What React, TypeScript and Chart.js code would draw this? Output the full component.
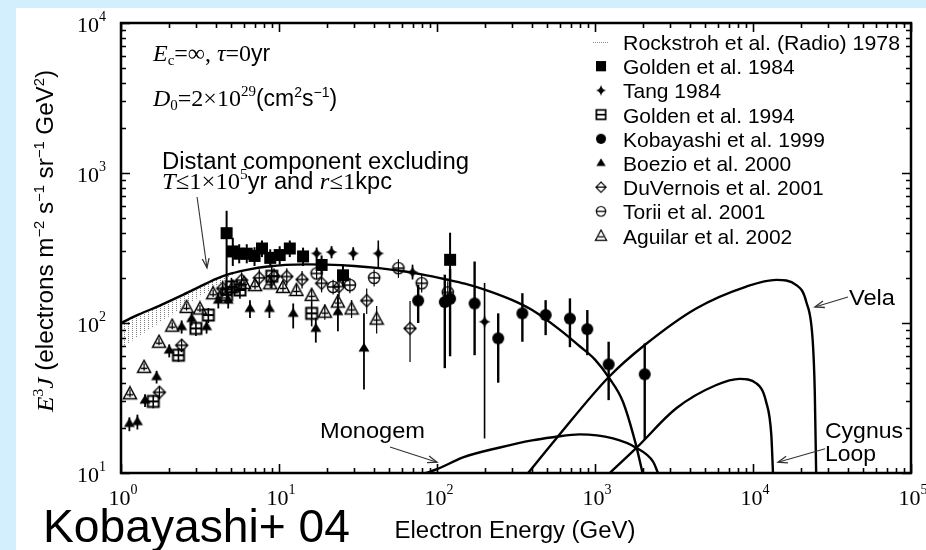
import { useEffect, useRef } from "react";
import { Chart, registerables } from "chart.js";

Chart.register(...registerables);

const SERIF = '"Liberation Serif", "DejaVu Serif", serif';
const SANS = '"Liberation Sans", Arial, Helvetica, sans-serif';

// ---- axes ----
const xTickExponents = [0, 1, 2, 3, 4, 5];
const yTickExponents = [1, 2, 3, 4];

// ---- model curves (energy in GeV, E^3 J) ----
const distantEnergy = [1, 1.3, 1.8, 2.5, 3.2, 4, 5, 6.5, 8.5, 11, 15, 20, 30, 43, 60, 80, 115, 150, 200, 300, 400, 600, 800, 1000, 1230, 1500, 1800, 2000];
const distantFlux = [100, 114, 132, 155, 176, 197, 214, 228, 238, 244, 246, 245, 240, 232, 222, 211, 195, 183, 167, 142, 122, 90, 70, 57, 43, 30, 16, 10];

const velaEnergy = [377, 569, 1227, 2064, 4370, 9080, 14050, 18800, 21700, 23900, 24600, 25100];
const velaFlux = [10, 17, 43.8, 71.3, 125, 175, 194, 179, 139, 75, 35, 10];

const cygnusEnergy = [1240, 1828, 3270, 5860, 8240, 10500, 12100, 13060, 13380];
const cygnusFlux = [10, 14.7, 27, 38.6, 42.4, 39.6, 29.9, 17.9, 10];

const monogemEnergy = [85, 100, 146, 250, 400, 542, 800, 1300, 1828, 2330, 2505];
const monogemFlux = [10, 10.6, 12.7, 14.8, 16.5, 17.3, 18.1, 17.0, 14.7, 11.9, 10];

// ---- radio band (Rockstroh et al. 1978) ----
const radioEnergy = [1.0, 1.5, 2.0, 3.0, 4.0, 5.5];
const radioLow = [68, 90, 110, 145, 175, 222];
const radioHigh = [100, 122, 140, 174, 200, 222];

// ---- measurements ----
const golden84Energy = [4.66, 5.1, 5.6, 6.25, 7.0, 7.8, 8.8, 10.1, 11.7, 14.2, 18.6, 25.4, 121];
const golden84Flux = [397, 300, 290, 290, 280, 314, 272, 284, 314, 278, 244, 208, 264];
const golden84Low = [160, 240, 250, 250, 240, 275, 235, 245, 275, 240, 210, 175, 150];
const golden84High = [560, 370, 335, 335, 320, 355, 310, 325, 355, 318, 282, 245, 400];

const tangEnergy = [17.3, 21.5, 29.5, 42.5, 70, 200];
const tangFlux = [291, 297, 291, 291, 218, 102];
const tangLow = [265, 270, 262, 230, 195, 17];
const tangHigh = [318, 325, 320, 355, 245, 185];

const golden94Energy = [1.6, 2.31, 2.98, 3.57, 4.66, 5.0, 5.66, 9.0, 16.1];
const golden94Flux = [30, 61, 92, 113, 154, 174, 166, 205, 116];
const golden94Low = [27, 55, 82, 100, 135, 150, 145, 170, 95];
const golden94High = [33, 68, 102, 126, 175, 200, 190, 245, 140];

const kobayashiEnergy = [76, 112, 121, 173, 244, 347, 487, 694, 894, 1220, 2064];
const kobayashiFlux = [141, 138, 145, 135, 79, 116, 113, 107, 91, 53, 45.5];
const kobayashiLow = [100, 50, 60, 61, 40, 75, 83, 69, 61, 30.6, 16.6];
const kobayashiHigh = [180, 210, 230, 257, 116, 158, 142, 146, 122, 75, 73];

const boezioEnergy = [1.13, 1.27, 1.42, 1.68, 2.02, 2.42, 2.8, 3.48, 4.13, 4.77, 6.55, 8.7, 12.3, 17.1, 23.6, 34.5];
const boezioFlux = [21.4, 22, 30.6, 43.9, 66, 94.5, 107, 94.5, 142, 142, 125, 125, 116, 92, 119, 68];
const boezioLow = [19, 19.5, 27.5, 39.5, 59, 85, 96, 85, 125, 125, 108, 108, 92, 74, 88, 36];
const boezioHigh = [23.5, 24.5, 33.5, 48, 72, 104, 118, 104, 160, 160, 142, 142, 135, 108, 148, 116];

const duvernoisEnergy = [1.75, 2.42, 4.4, 5.8, 7.5, 9.3, 11.2, 14, 18.6, 24, 35.9, 67.5];
const duvernoisFlux = [34.5, 71, 170, 193, 200, 205, 204, 195, 184, 175, 141, 92];
const duvernoisLow = [31, 64, 150, 170, 175, 180, 178, 170, 160, 150, 115, 55];
const duvernoisHigh = [38, 78, 192, 218, 228, 232, 232, 222, 210, 202, 170, 140];

const toriiEnergy = [17.3, 22, 28.1, 40, 57, 80, 117];
const toriiFlux = [214, 174, 179, 200, 232, 184, 160];
const toriiLow = [195, 155, 158, 175, 200, 160, 135];
const toriiHigh = [236, 194, 200, 228, 266, 212, 190];

const aguilarEnergy = [1.14, 1.4, 1.74, 2.11, 2.6, 3.16, 3.83, 4.4, 5.1, 6.0, 7.05, 8.8, 10.6, 12.9, 16.1, 19.5, 23.6, 28.8, 41.5];
const aguilarFlux = [34, 51, 75, 96, 128, 125, 158, 160, 175, 185, 179, 184, 174, 166, 154, 119, 139, 125, 107];
const aguilarLow = [32, 48, 71, 91, 121, 118, 149, 150, 164, 173, 167, 171, 161, 152, 140, 105, 122, 108, 85];
const aguilarHigh = [36, 54, 79, 101, 135, 132, 167, 170, 186, 197, 191, 197, 187, 180, 168, 133, 156, 142, 130];

const legendLabels = [
  "Rockstroh et al. (Radio) 1978",
  "Golden et al. 1984",
  "Tang 1984",
  "Golden et al. 1994",
  "Kobayashi et al. 1999",
  "Boezio et al. 2000",
  "DuVernois et al. 2001",
  "Torii et al. 2001",
  "Aguilar et al. 2002",
];
const legendMarkers = ["radio", "filledSquare", "star", "squareBar", "filledCircle", "filledTriangle", "diamondBar", "circleBar", "triangleBar"];

// ---- helpers ----
const pts = (xs: number[], ys: number[]) => xs.map((x, i) => ({ x, y: ys[i] }));

function makeMarker(kind: string): HTMLCanvasElement {
  const c = document.createElement("canvas");
  c.width = 16;
  c.height = 16;
  const g = c.getContext("2d")!;
  g.fillStyle = "#000";
  g.strokeStyle = "#000";
  g.lineWidth = 1.5;
  g.beginPath();
  switch (kind) {
    case "filledSquare":
      g.fillRect(2, 2, 12, 12);
      break;
    case "star":
      g.moveTo(8, 1.5);
      g.quadraticCurveTo(9, 7, 14, 8);
      g.quadraticCurveTo(9, 9, 8, 14.5);
      g.quadraticCurveTo(7, 9, 2, 8);
      g.quadraticCurveTo(7, 7, 8, 1.5);
      g.fill();
      break;
    case "squareBar":
      g.lineWidth = 2;
      g.strokeRect(2.5, 2.5, 11, 11);
      g.moveTo(2.5, 8);
      g.lineTo(13.5, 8);
      g.stroke();
      break;
    case "filledCircle":
      g.arc(8, 8, 6, 0, Math.PI * 2);
      g.fill();
      break;
    case "filledTriangle":
      g.moveTo(8, 2.5);
      g.lineTo(13.5, 11.5);
      g.lineTo(2.5, 11.5);
      g.closePath();
      g.fill();
      break;
    case "diamondBar":
      g.lineWidth = 1.4;
      g.moveTo(8, 2);
      g.lineTo(14, 8);
      g.lineTo(8, 14);
      g.lineTo(2, 8);
      g.closePath();
      g.moveTo(2, 8);
      g.lineTo(14, 8);
      g.stroke();
      break;
    case "circleBar":
      g.lineWidth = 1.4;
      g.arc(8, 8, 5.6, 0, Math.PI * 2);
      g.moveTo(2.4, 8);
      g.lineTo(13.6, 8);
      g.stroke();
      break;
    case "triangleBar":
      g.lineWidth = 1.5;
      g.moveTo(8, 1.5);
      g.lineTo(14.5, 13.5);
      g.lineTo(1.5, 13.5);
      g.closePath();
      g.moveTo(4.8, 9.5);
      g.lineTo(11.2, 9.5);
      g.stroke();
      break;
  }
  return c;
}

type Seg = { t: string; font: string; dy?: number };

function segWidth(ctx: CanvasRenderingContext2D, segs: Seg[]) {
  let w = 0;
  for (const s of segs) {
    ctx.font = s.font;
    w += ctx.measureText(s.t).width;
  }
  return w;
}

// draws a run of mixed-font text starting at (x, y) baseline; optional stretch to a width
function drawSegs(ctx: CanvasRenderingContext2D, x: number, y: number, segs: Seg[], fitWidth?: number) {
  const w = segWidth(ctx, segs);
  const sx = fitWidth ? fitWidth / w : 1;
  ctx.save();
  ctx.translate(x, y);
  ctx.scale(sx, 1);
  ctx.textBaseline = "alphabetic";
  ctx.textAlign = "left";
  let cx = 0;
  for (const s of segs) {
    ctx.font = s.font;
    ctx.fillText(s.t, cx, s.dy || 0);
    cx += ctx.measureText(s.t).width;
  }
  ctx.restore();
  return w * sx;
}

const sans = (px: number) => `${px}px ${SANS}`;
const serif = (px: number) => `${px}px ${SERIF}`;
const iserif = (px: number) => `italic ${px}px ${SERIF}`;

function logTicks(loExp: number, hiExp: number) {
  const out: { value: number }[] = [];
  for (let e = loExp; e < hiExp; e++) for (let m = 1; m <= 9; m++) out.push({ value: m * Math.pow(10, e) });
  out.push({ value: Math.pow(10, hiExp) });
  return out;
}
const isDecade = (v: number) => Math.abs(Math.log10(v) - Math.round(Math.log10(v))) < 1e-9;

function arrow(ctx: CanvasRenderingContext2D, x1: number, y1: number, x2: number, y2: number) {
  ctx.save();
  ctx.strokeStyle = "#333";
  ctx.lineWidth = 1.1;
  ctx.beginPath();
  ctx.moveTo(x1, y1);
  ctx.lineTo(x2, y2);
  ctx.stroke();
  const a = Math.atan2(y2 - y1, x2 - x1);
  const L = 10;
  ctx.beginPath();
  ctx.moveTo(x2 - L * Math.cos(a - 0.35), y2 - L * Math.sin(a - 0.35));
  ctx.lineTo(x2, y2);
  ctx.lineTo(x2 - L * Math.cos(a + 0.35), y2 - L * Math.sin(a + 0.35));
  ctx.lineWidth = 1.3;
  ctx.stroke();
  ctx.restore();
}

export default function App() {
  const ref = useRef<HTMLCanvasElement>(null);

  useEffect(() => {
    const canvas = ref.current!;
    const markers: Record<string, HTMLCanvasElement> = {};
    for (const k of legendMarkers) if (k !== "radio") markers[k] = makeMarker(k);

    // vertical dotted hatching for the radio band
    const pc = document.createElement("canvas");
    pc.width = 4;
    pc.height = 2;
    const pg = pc.getContext("2d")!;
    pg.fillStyle = "rgba(95,95,95,0.8)";
    pg.fillRect(0, 0, 1, 1);
    const hatch = canvas.getContext("2d")!.createPattern(pc, "repeat")!;

    const curve = (data: { x: number; y: number }[], order: number) => ({
      type: "line" as const,
      data,
      borderColor: "#000",
      borderWidth: 2.4,
      pointRadius: 0,
      fill: false,
      cubicInterpolationMode: "monotone" as const,
      order,
    });

    const series = (data: { x: number; y: number }[], marker: string, lo: number[], hi: number[], errWidth: number, order: number) => ({
      type: "scatter" as const,
      data,
      pointStyle: markers[marker],
      pointRadius: 6,
      errLow: lo,
      errHigh: hi,
      errWidth,
      order,
    });

    const backgroundPlugin = {
      id: "panel",
      beforeDraw(chart: any) {
        const ctx = chart.ctx as CanvasRenderingContext2D;
        ctx.save();
        ctx.fillStyle = "#d3eefc";
        ctx.fillRect(0, 0, chart.width, chart.height);
        ctx.fillStyle = "#ffffff";
        ctx.fillRect(16, 8, chart.width - 16, chart.height - 8);
        ctx.restore();
      },
    };

    const errorBarPlugin = {
      id: "errorBars",
      beforeDatasetsDraw(chart: any) {
        const ctx = chart.ctx as CanvasRenderingContext2D;
        const xs = chart.scales.x;
        const ys = chart.scales.y;
        const a = chart.chartArea;
        ctx.save();
        ctx.beginPath();
        ctx.rect(a.left, a.top, a.right - a.left, a.bottom - a.top);
        ctx.clip();
        ctx.strokeStyle = "#000";
        chart.data.datasets.forEach((ds: any) => {
          if (!ds.errLow) return;
          ctx.lineWidth = ds.errWidth;
          ds.data.forEach((p: any, i: number) => {
            const px = xs.getPixelForValue(p.x);
            ctx.beginPath();
            ctx.moveTo(px, ys.getPixelForValue(ds.errLow[i]));
            ctx.lineTo(px, ys.getPixelForValue(ds.errHigh[i]));
            ctx.stroke();
          });
        });
        ctx.restore();
      },
    };

    const framePlugin = {
      id: "frame",
      afterDatasetsDraw(chart: any) {
        const ctx = chart.ctx as CanvasRenderingContext2D;
        const xs = chart.scales.x;
        const ys = chart.scales.y;
        const { left, right, top, bottom } = chart.chartArea;
        ctx.save();
        ctx.strokeStyle = "#000";
        ctx.lineWidth = 1.6;
        ctx.beginPath();
        for (const t of xs.ticks) {
          const px = Math.round(xs.getPixelForValue(t.value)) + 0.5;
          const len = isDecade(t.value) ? 9 : 5;
          ctx.moveTo(px, bottom);
          ctx.lineTo(px, bottom - len);
          ctx.moveTo(px, top);
          ctx.lineTo(px, top + len);
        }
        for (const t of ys.ticks) {
          const py = Math.round(ys.getPixelForValue(t.value)) + 0.5;
          const len = isDecade(t.value) ? 9 : 5;
          ctx.moveTo(left, py);
          ctx.lineTo(left + len, py);
          ctx.moveTo(right, py);
          ctx.lineTo(right - len, py);
        }
        ctx.stroke();
        ctx.lineWidth = 2.5;
        ctx.strokeRect(left, top, right - left, bottom - top);

        // annotation arrows, given in data coordinates
        const P = (e: number, j: number): [number, number] => [xs.getPixelForValue(e), ys.getPixelForValue(j)];
        const arrows: [number, number, number, number][] = [
          [3.03, 692, 3.5, 233],
          [50.4, 14.9, 100, 11.8],
          [39900, 149, 24650, 128],
          [28600, 14.5, 14400, 11.8],
        ];
        for (const [e1, j1, e2, j2] of arrows) {
          const [x1, y1] = P(e1, j1);
          const [x2, y2] = P(e2, j2);
          arrow(ctx, x1, y1, x2, y2);
        }
        ctx.restore();
      },
    };

    const textPlugin = {
      id: "texts",
      afterDraw(chart: any) {
        const ctx = chart.ctx as CanvasRenderingContext2D;
        const xs = chart.scales.x;
        const ys = chart.scales.y;
        ctx.save();
        ctx.fillStyle = "#000";

        // tick labels 10^n
        for (const e of xTickExponents) {
          const px = xs.getPixelForValue(Math.pow(10, e));
          const segs: Seg[] = [{ t: "10", font: serif(22) }, { t: String(e), font: serif(14), dy: -11 }];
          const w = segWidth(ctx, segs);
          drawSegs(ctx, px - w / 2 + 2, 505, segs);
        }
        for (const e of yTickExponents) {
          const py = ys.getPixelForValue(Math.pow(10, e));
          const segs: Seg[] = [{ t: "10", font: serif(22) }, { t: String(e), font: serif(14), dy: -11 }];
          const w = segWidth(ctx, segs);
          drawSegs(ctx, 106 - w, py + 9, segs);
        }

        // in-plot annotations
        drawSegs(ctx, 153, 61, [
          { t: "E", font: iserif(24) },
          { t: "c", font: serif(15), dy: 4 },
          { t: "=\u221e, ", font: serif(24) },
          { t: "\u03c4", font: iserif(24) },
          { t: "=0", font: serif(24) },
          { t: "yr", font: sans(23) },
        ]);
        drawSegs(ctx, 153, 106, [
          { t: "D", font: iserif(24) },
          { t: "0", font: serif(15), dy: 4 },
          { t: "=2\u00d710", font: serif(24) },
          { t: "29", font: serif(15), dy: -10 },
          { t: "(cm", font: sans(23) },
          { t: "2", font: sans(14), dy: -9 },
          { t: "s", font: sans(23) },
          { t: "\u22121", font: sans(14), dy: -9 },
          { t: ")", font: sans(23) },
        ]);
        drawSegs(ctx, 162, 169, [{ t: "Distant component excluding", font: sans(23) }], 307);
        drawSegs(ctx, 162, 189, [
          { t: "T", font: iserif(24) },
          { t: "\u22641\u00d710", font: serif(24) },
          { t: "5", font: serif(15), dy: -10 },
          { t: "yr and ", font: sans(23) },
          { t: "r", font: iserif(24) },
          { t: "\u22641", font: serif(24) },
          { t: "kpc", font: sans(23) },
        ], 230);
        drawSegs(ctx, 320, 438, [{ t: "Monogem", font: sans(22) }], 105);
        drawSegs(ctx, 849, 305, [{ t: "Vela", font: sans(22) }], 46);
        drawSegs(ctx, 825, 438, [{ t: "Cygnus", font: sans(22) }], 78);
        drawSegs(ctx, 825, 461, [{ t: "Loop", font: sans(22) }], 51);

        // legend
        legendLabels.forEach((label, i) => {
          const cy = 42 + i * 24.2;
          const k = legendMarkers[i];
          if (k === "radio") {
            ctx.save();
            ctx.strokeStyle = "rgba(110,110,110,0.8)";
            ctx.lineWidth = 1;
            ctx.setLineDash([1, 1]);
            ctx.beginPath();
            ctx.moveTo(593, cy + 0.5);
            ctx.lineTo(609, cy + 0.5);
            ctx.stroke();
            ctx.restore();
          } else {
            const m = markers[k];
            ctx.save();
            ctx.translate(601, cy);
            ctx.scale(0.85, 0.85);
            ctx.drawImage(m, -m.width / 2, -m.height / 2);
            ctx.restore();
          }
          drawSegs(ctx, 623, cy + 8, [{ t: label, font: sans(21) }], i === 0 ? 277 : undefined);
        });

        // axis titles
        const xt: Seg[] = [{ t: "Electron Energy (GeV)", font: sans(23) }];
        drawSegs(ctx, 515 - 241 / 2, 538, xt, 241);

        ctx.save();
        ctx.translate(53, 241);
        ctx.rotate(-Math.PI / 2);
        const yt: Seg[] = [
          { t: "E", font: iserif(24) },
          { t: "3", font: serif(15), dy: -10 },
          { t: "J", font: iserif(24) },
          { t: " (electrons m", font: sans(23) },
          { t: "\u22122", font: sans(14), dy: -9 },
          { t: " s", font: sans(23) },
          { t: "\u22121", font: sans(14), dy: -9 },
          { t: " sr", font: sans(23) },
          { t: "\u22121", font: sans(14), dy: -9 },
          { t: " GeV", font: sans(23) },
          { t: "2", font: sans(14), dy: -9 },
          { t: ")", font: sans(23) },
        ];
        drawSegs(ctx, -171, 0, yt, 342);
        ctx.restore();

        drawSegs(ctx, 43, 542, [{ t: "Kobayashi+ 04", font: sans(46) }], 307);
        ctx.restore();
      },
    };

    const chart = new Chart(canvas, {
      type: "scatter",
      data: {
        datasets: [
          series(pts(golden84Energy, golden84Flux), "filledSquare", golden84Low, golden84High, 2, 1),
          series(pts(kobayashiEnergy, kobayashiFlux), "filledCircle", kobayashiLow, kobayashiHigh, 2.4, 1),
          series(pts(tangEnergy, tangFlux), "star", tangLow, tangHigh, 1.6, 1),
          series(pts(golden94Energy, golden94Flux), "squareBar", golden94Low, golden94High, 1.6, 1),
          series(pts(boezioEnergy, boezioFlux), "filledTriangle", boezioLow, boezioHigh, 1.8, 1),
          series(pts(duvernoisEnergy, duvernoisFlux), "diamondBar", duvernoisLow, duvernoisHigh, 1.2, 1),
          series(pts(toriiEnergy, toriiFlux), "circleBar", toriiLow, toriiHigh, 1.2, 1),
          series(pts(aguilarEnergy, aguilarFlux), "triangleBar", aguilarLow, aguilarHigh, 1.2, 1),
          curve(pts(distantEnergy, distantFlux), 2),
          curve(pts(velaEnergy, velaFlux), 2),
          curve(pts(cygnusEnergy, cygnusFlux), 2),
          curve(pts(monogemEnergy, monogemFlux), 2),
          {
            type: "line" as const,
            data: pts(radioEnergy, radioLow),
            borderWidth: 0,
            borderColor: "rgba(0,0,0,0)",
            pointRadius: 0,
            fill: false,
            tension: 0.3,
            order: 4,
          },
          {
            type: "line" as const,
            data: pts(radioEnergy, radioHigh),
            borderWidth: 0,
            borderColor: "rgba(0,0,0,0)",
            backgroundColor: hatch,
            pointRadius: 0,
            fill: "-1",
            tension: 0.3,
            order: 3,
          },
        ] as any,
      },
      options: {
        responsive: false,
        animation: false,
        devicePixelRatio: 1,
        events: [],
        layout: { padding: { top: 23, right: 15, left: 0, bottom: 0 } },
        plugins: { legend: { display: false }, tooltip: { enabled: false } },
        scales: {
          x: {
            type: "logarithmic",
            min: 1,
            max: 1e5,
            ticks: { display: false },
            grid: { display: false },
            border: { display: false },
            afterBuildTicks: (s: any) => {
              s.ticks = logTicks(xTickExponents[0], xTickExponents[xTickExponents.length - 1]);
            },
            afterFit: (s: any) => {
              s.height = 77;
            },
          },
          y: {
            type: "logarithmic",
            min: 10,
            max: 1e4,
            ticks: { display: false },
            grid: { display: false },
            border: { display: false },
            afterBuildTicks: (s: any) => {
              s.ticks = logTicks(yTickExponents[0], yTickExponents[yTickExponents.length - 1]);
            },
            afterFit: (s: any) => {
              s.width = 121;
            },
          },
        },
      } as any,
      plugins: [backgroundPlugin, errorBarPlugin, framePlugin, textPlugin],
    });

    return () => chart.destroy();
  }, []);

  return (
    <canvas
      ref={ref}
      width={926}
      height={550}
      style={{ position: "fixed", left: 0, top: 0, width: 926, height: 550, display: "block" }}
    />
  );
}
